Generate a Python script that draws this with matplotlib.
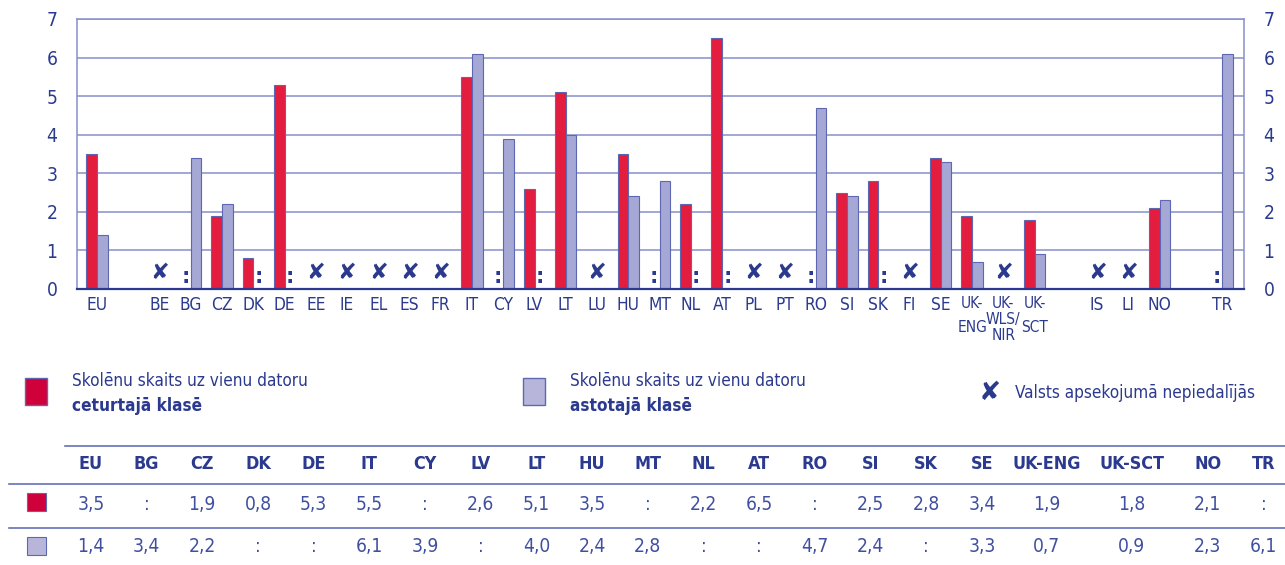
import numpy as np
import matplotlib
matplotlib.use("Agg")
import matplotlib.pyplot as plt
from matplotlib import font_manager
from matplotlib.lines import Line2D
from matplotlib.patches import Rectangle

# pupils per computer, grade 4 and grade 8 (None = no data)
countries = ['EU', 'BE', 'BG', 'CZ', 'DK', 'DE', 'EE', 'IE', 'EL', 'ES', 'FR',
             'IT', 'CY', 'LV', 'LT', 'LU', 'HU', 'MT', 'NL', 'AT', 'PL', 'PT',
             'RO', 'SI', 'SK', 'FI', 'SE', 'UK-ENG', 'UK-WLS/NIR', 'UK-SCT',
             'IS', 'LI', 'NO', 'TR']
grade4 = [3.5, None, None, 1.9, 0.8, 5.3, None, None, None, None, None,
          5.5, None, 2.6, 5.1, None, 3.5, None, 2.2, 6.5, None, None,
          None, 2.5, 2.8, None, 3.4, 1.9, None, 1.8,
          None, None, 2.1, None]
grade8 = [1.4, None, 3.4, 2.2, None, None, None, None, None, None, None,
          6.1, 3.9, None, 4.0, None, 2.4, 2.8, None, None, None, None,
          4.7, 2.4, None, None, 3.3, 0.7, None, 0.9,
          None, None, 2.3, 6.1]
not_participating = ['BE', 'EE', 'IE', 'EL', 'ES', 'FR', 'LU', 'PL', 'PT',
                     'FI', 'UK-WLS/NIR', 'IS', 'LI']
tick_names = {'UK-ENG': 'UK-\nENG', 'UK-WLS/NIR': 'UK-\nWLS/\nNIR',
              'UK-SCT': 'UK-\nSCT'}
gaps_after = ['EU', 'UK-SCT', 'NO']
yticks = list(range(0, 8))

legend_g4 = ('Skolēnu skaits uz vienu datoru', 'ceturtajā klasē')
legend_g8 = ('Skolēnu skaits uz vienu datoru', 'astotajā klasē')
legend_x = 'Valsts apsekojumā nepiedalījās'

RED = '#E41C3D'
RED_KEY = '#D0003A'
LILAC = '#A5A8D4'
LILAC_KEY = '#B7B6DA'
EDGE = '#5E68B2'
NAVY = '#2B3A8E'
VALUE = '#4050A0'
GRID = '#8690CB'

# pick a narrow sans face if one is around
faces = font_manager.fontManager.ttflist
names = {f.name for f in faces}
STRETCH = 'normal'
SCALE = 1.0
if 'Liberation Sans Narrow' in names:
    NARROW = ['Liberation Sans Narrow', 'DejaVu Sans']
elif any(f.name == 'DejaVu Sans' and f.stretch in ('condensed', 'semi-condensed')
         for f in faces):
    NARROW = ['DejaVu Sans']
    STRETCH = 'condensed'
    SCALE = 0.92
else:
    NARROW = ['Liberation Sans', 'DejaVu Sans']
    SCALE = 0.88
plt.rcParams['font.family'] = NARROW
plt.rcParams['font.stretch'] = STRETCH

W, H = 1285, 565
fig = plt.figure(figsize=(W / 100, H / 100), dpi=100)
ax = fig.add_axes([77 / W, 1 - 289 / H, (1244 - 77) / W, (289 - 19) / H])


def fx(x):
    return x / W


def fy(y):
    return 1 - y / H


# slot positions, with an empty slot after some groups
pos = []
p = 0
for c in countries:
    pos.append(p)
    p += 2 if c in gaps_after else 1
pos = np.array(pos, dtype=float)

bw = 0.34
for i, c in enumerate(countries):
    x = pos[i]
    if c in not_participating:
        ax.text(x, 0.42, '✘', ha='center', va='center', fontsize=16,
                color=NAVY, family=['DejaVu Sans'], stretch='normal')
        continue
    for val, off, col in ((grade4[i], -bw / 2, RED), (grade8[i], bw / 2, LILAC)):
        if val is None:
            ax.text(x + off, 0.32, ':', ha='center', va='center', fontsize=15,
                    fontweight='bold', color=NAVY, family=['DejaVu Sans'],
                    stretch='normal')
        else:
            ax.bar(x + off, val, width=bw, color=col, edgecolor=EDGE,
                   linewidth=0.8, zorder=3)

ax.set_xlim(-0.64, pos[-1] + 0.7)
ax.set_ylim(0, 7)
ax.set_yticks(yticks)
ax.yaxis.grid(True, color=GRID, linewidth=1.1, zorder=0)
ax.set_axisbelow(True)
ax.tick_params(axis='y', length=0, pad=14, labelsize=15 * SCALE,
               labelcolor=NAVY, left=True, right=True,
               labelleft=True, labelright=True)
ax.set_xticks(pos)
ax.set_xticklabels([tick_names.get(c, c) for c in countries])
ax.tick_params(axis='x', length=0, pad=5, labelsize=13.5 * SCALE, labelcolor=NAVY)
for lab in ax.get_xticklabels():
    if lab.get_text() == 'UK-\nWLS/\nNIR':
        lab.set_linespacing(1.1)
        lab.set_fontsize(12 * SCALE)
    elif '\n' in lab.get_text():
        lab.set_linespacing(1.75)
        lab.set_fontsize(12 * SCALE)

for side in ('left', 'right', 'top'):
    ax.spines[side].set_color(GRID)
    ax.spines[side].set_linewidth(1.1)
ax.spines['bottom'].set_color(NAVY)
ax.spines['bottom'].set_linewidth(1.6)
ax.spines['bottom'].set_zorder(4)

# legend
for (x0, face, lines) in ((25, RED_KEY, legend_g4), (523, LILAC_KEY, legend_g8)):
    fig.add_artist(Rectangle((fx(x0), fy(405)), 22 / W, 27 / H,
                             transform=fig.transFigure, facecolor=face,
                             edgecolor=EDGE, linewidth=1))
    fig.text(fx(x0 + 47), fy(381), lines[0], ha='left', va='center',
             fontsize=13.4 * SCALE, color=NAVY)
    fig.text(fx(x0 + 47), fy(406), lines[1], ha='left', va='center',
             fontsize=13.4 * SCALE, fontweight='bold', color=NAVY)
fig.text(fx(990), fy(393), '✘', ha='center', va='center', fontsize=19,
         color=NAVY, family=['DejaVu Sans'], stretch='normal')
fig.text(fx(1015), fy(393), legend_x, ha='left', va='center',
         fontsize=13.4 * SCALE, color=NAVY)

# data table
cols = [i for i, c in enumerate(countries) if c not in not_participating]
col_w = {'UK-ENG': 74, 'UK-SCT': 96}
x = 63
centers = []
for i in cols:
    w = col_w.get(countries[i], 55.7)
    centers.append(x + w / 2)
    x += w


def fmt(v):
    return ':' if v is None else f'{v:.1f}'.replace('.', ',')


for cx, i in zip(centers, cols):
    fig.text(fx(cx), fy(464), countries[i], ha='center', va='center',
             fontsize=14 * SCALE, fontweight='bold', color=NAVY)
    fig.text(fx(cx), fy(504), fmt(grade4[i]), ha='center', va='center',
             fontsize=15 * SCALE, color=VALUE)
    fig.text(fx(cx), fy(547), fmt(grade8[i]), ha='center', va='center',
             fontsize=15 * SCALE, color=VALUE)

for x0, y in ((65, 446), (9, 484), (9, 528)):
    fig.add_artist(Line2D([fx(x0), 1], [fy(y), fy(y)], color='#6670B8',
                          linewidth=1.2, transform=fig.transFigure))
for y0, face in ((493, RED_KEY), (537, LILAC_KEY)):
    fig.add_artist(Rectangle((fx(27), fy(y0 + 18)), 19 / W, 18 / H,
                             transform=fig.transFigure, facecolor=face,
                             edgecolor=EDGE, linewidth=0.8))

fig.savefig('out.png', dpi=100)
